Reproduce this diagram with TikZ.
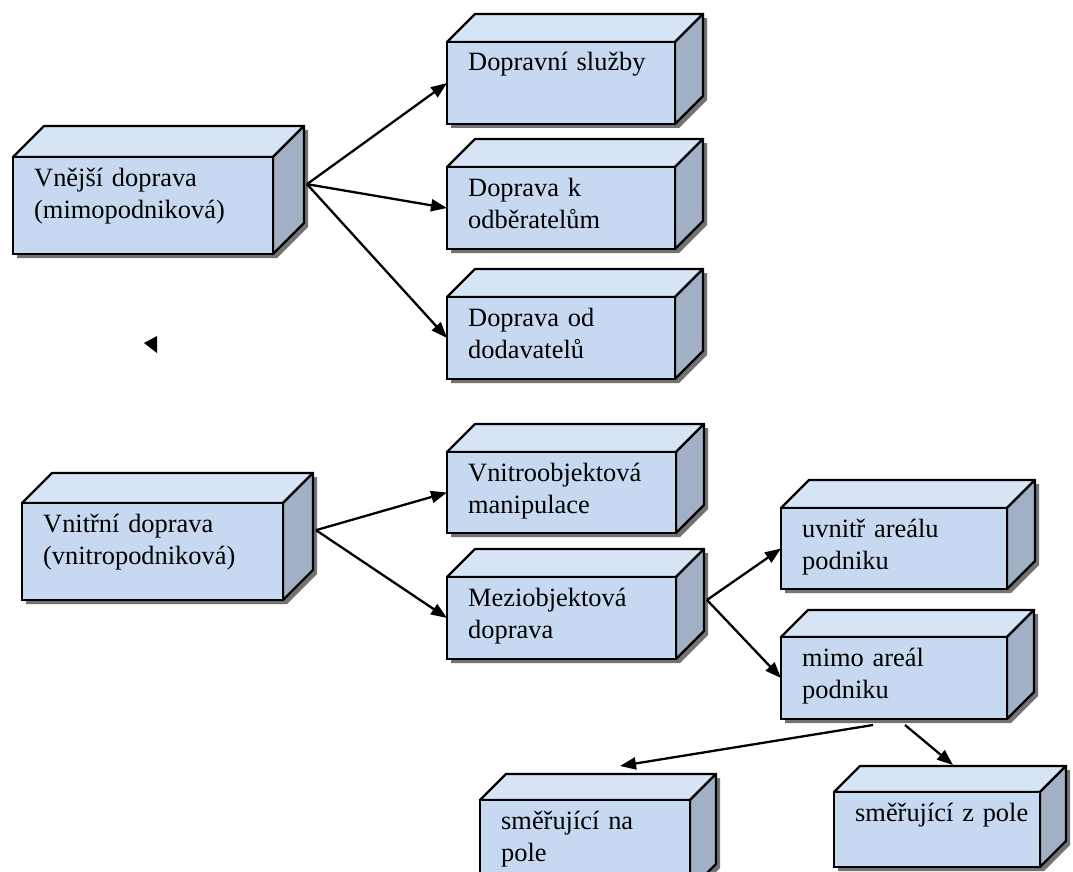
\documentclass[tikz,border=0pt]{standalone}
\usepackage{fontspec}
\setmainfont{Liberation Serif}
\usepackage{tikz}
\usetikzlibrary{arrows.meta}

\definecolor{celobarva}{RGB}{198,217,241}
\definecolor{hornibarva}{RGB}{214,228,245}
\definecolor{bocnibarva}{RGB}{161,176,196}
\definecolor{stinbarva}{RGB}{115,115,115}

\tikzset{
  celo/.style={draw, line width=2.4pt, fill=celobarva, anchor=north west, inner sep=0pt, outer sep=0pt},
  horni/.style={draw, line width=2.4pt, fill=hornibarva, line join=round},
  bocni/.style={draw, line width=2.4pt, fill=bocnibarva, line join=round},
  stin/.style={fill=stinbarva},
  popis/.style={anchor=base west, inner sep=0pt, text width=240pt, align=left, font=\fontsize{26.4}{32.5}\selectfont},
  sipka/.style={-{Triangle[length=16pt,width=12pt]}, line width=2.3pt}
}

% #1 name, (#2,#3) front top left, #4 width, #5 height, #6 depth, #7 text
\newcommand{\kvadr}[7]{%
  \begin{scope}[shift={(#2,#3)}]
    \fill[stin] (4,4) -- (#6+4,-#6+4) -- (#4+#6+4,-#6+4) -- (#4+#6+4,#5-#6+4) -- (#4+4,#5+4) -- (4,#5+4) -- cycle;
    \draw[horni] (0,0) -- (#6,-#6) -- (#4+#6,-#6) -- (#4,0) -- cycle;
    \draw[bocni] (#4,0) -- (#4+#6,-#6) -- (#4+#6,#5-#6) -- (#4,#5) -- cycle;
    \node[celo, minimum width=#4pt, minimum height=#5pt] (#1) at (0,0) {};
    \node[popis] (#1-t) at (21,29) {#7};
    \coordinate (#1-out) at (#4+#6+3,0.28*#5);
  \end{scope}}

\begin{document}
\begin{tikzpicture}[x=1pt, y=-1pt]
  \clip (0,0) rectangle (1073,872);
  \kvadr{vnejsi}{13}{157}{260}{97}{31}{Vnější doprava\\(mimopodniková)}
  \kvadr{sluzby}{447}{42}{228}{82}{28}{Dopravní služby}
  \kvadr{odberatele}{447}{167}{228}{82}{28}{Doprava k\\odběratelům}
  \kvadr{dodavatele}{447}{297}{228}{82}{28}{Doprava od\\dodavatelů}
  \kvadr{vnitrni}{22}{503}{261}{97}{30}{Vnitřní doprava\\(vnitropodniková)}
  \kvadr{vnitroobj}{447}{452}{229}{81}{28}{Vnitroobjektová\\manipulace}
  \kvadr{meziobj}{447}{577}{229}{82}{28}{Meziobjektová\\doprava}
  \kvadr{uvnitr}{781}{508}{226}{81}{28}{uvnitř areálu\\podniku}
  \kvadr{mimo}{781}{637}{226}{82}{27}{mimo areál\\podniku}
  \kvadr{napole}{480}{800}{210}{90}{26}{směřující na\\pole}
  \kvadr{zpole}{834}{792}{206}{75}{26}{směřující z pole}

  \fill (144,343) -- (157,336) -- (157,353) -- cycle;

  \draw[sipka] (vnejsi-out) -- (sluzby.west);
  \draw[sipka] (vnejsi-out) -- (odberatele.west);
  \draw[sipka] (vnejsi-out) -- (dodavatele.west);
  \draw[sipka] (vnitrni-out) -- (vnitroobj.west);
  \draw[sipka] (vnitrni-out) -- (meziobj.west);
  \draw[sipka] (meziobj-out) -- (uvnitr.west);
  \draw[sipka] (meziobj-out) -- (mimo.west);
  \draw[sipka] ([shift={(92,6)}]mimo.south west) -- ([shift={(140,-34)}]napole.north west);
  \draw[sipka] ([shift={(124,6)}]mimo.south west) -- ([shift={(119,-27)}]zpole.north west);
\end{tikzpicture}
\end{document}
